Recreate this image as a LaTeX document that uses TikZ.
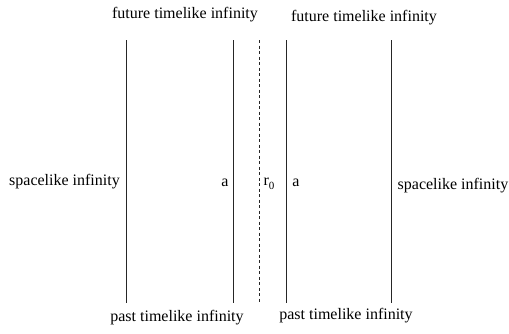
\documentclass[tikz,border=0pt]{standalone}
\usepackage{fontspec}
\setmainfont{Liberation Serif}
\begin{document}
\begin{tikzpicture}[x=1pt,y=-1pt,
  lbl/.style={inner sep=0pt,font=\fontsize{16}{18}\selectfont},
  wl/.style={line width=0.8pt,black!85}]
\useasboundingbox (0,0) rectangle (509,333);
\coordinate (l1t) at (126,40); \coordinate (l1b) at (126,303);
\coordinate (l2t) at (233,40); \coordinate (l2b) at (233,303);
\coordinate (l3t) at (259,40); \coordinate (l3b) at (259,303);
\coordinate (l4t) at (286,40); \coordinate (l4b) at (286,303);
\coordinate (l5t) at (391,40); \coordinate (l5b) at (391,303);
\draw[wl] (l1t) -- (l1b);
\draw[wl] (l2t) -- (l2b);
\draw[wl,dashed,dash pattern=on 3pt off 2.5pt] (l3t) -- (l3b);
\draw[wl] (l4t) -- (l4b);
\draw[wl] (l5t) -- (l5b);
\node[lbl] (ft1) at (185,15) {future timelike infinity};
\node[lbl] (ft2) at (364,18) {future timelike infinity};
\node[lbl] (pt1) at (177,318) {past timelike infinity};
\node[lbl] (pt2) at (346,316) {past timelike infinity};
\node[lbl] (sl1) at (64.5,182) {spacelike infinity};
\node[lbl] (sl2) at (453,186) {spacelike infinity};
\node[lbl] (a1) at (225,183) {a};
\node[lbl] (r0) at (269,184) {r\raisebox{-4pt}{\fontsize{11}{11}\selectfont 0}};
\node[lbl] (a2) at (296,183) {a};
\end{tikzpicture}
\end{document}
